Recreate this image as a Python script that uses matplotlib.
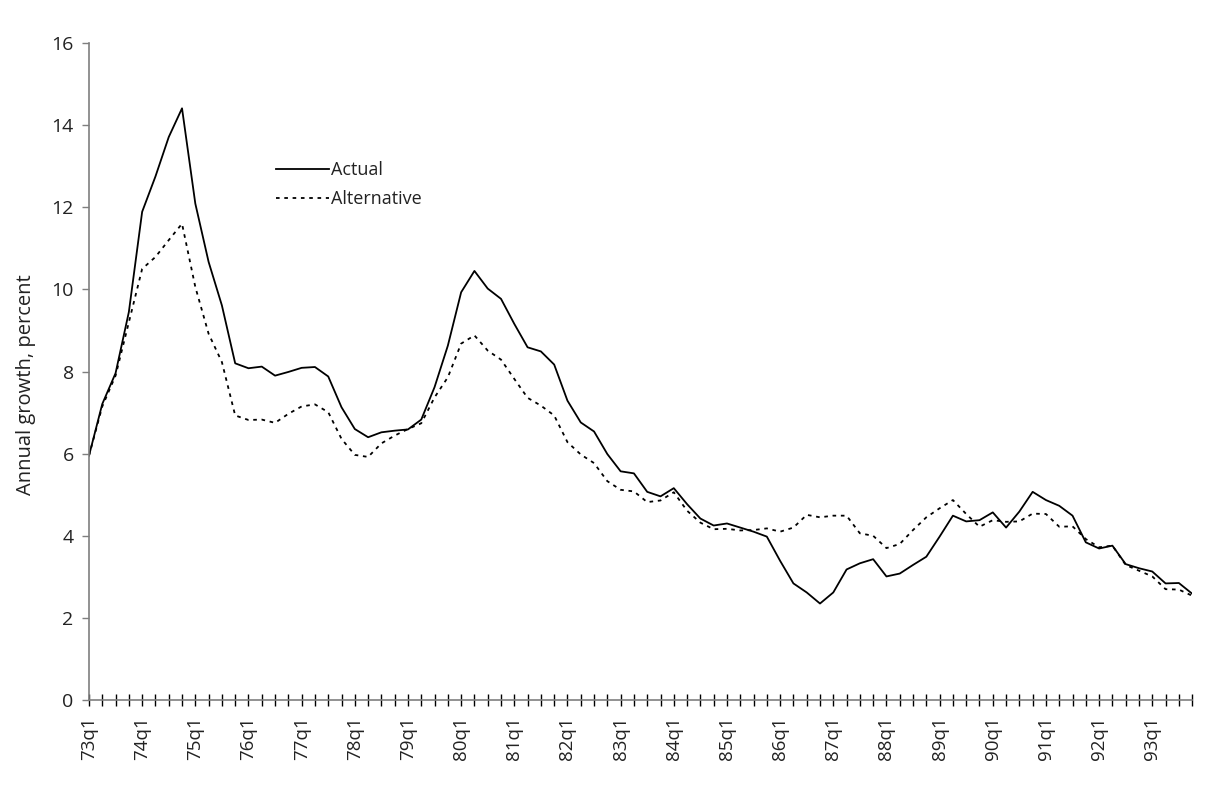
import matplotlib
matplotlib.use("Agg")
import matplotlib.pyplot as plt
import numpy as np

plt.rcParams['font.family'] = ['Open Sans', 'DejaVu Sans']

years = list(range(73, 94))
quarters = [f"{y}q{q}" for y in years for q in range(1, 5)]

actual = [5.95, 7.21, 7.96, 9.45, 11.89, 12.75, 13.71, 14.41, 12.09, 10.67, 9.61, 8.20,
          8.08, 8.12, 7.90, 7.99, 8.09, 8.11, 7.88, 7.13, 6.60, 6.40, 6.52, 6.56,
          6.59, 6.83, 7.62, 8.63, 9.93, 10.45, 10.02, 9.77, 9.16, 8.59, 8.49, 8.17,
          7.29, 6.76, 6.54, 5.99, 5.57, 5.52, 5.07, 4.96, 5.16, 4.77, 4.42, 4.25,
          4.30, 4.20, 4.10, 3.98, 3.39, 2.84, 2.62, 2.35, 2.62, 3.18, 3.33, 3.43,
          3.01, 3.08, 3.29, 3.49, 3.98, 4.49, 4.35, 4.38, 4.57, 4.20, 4.59, 5.07,
          4.87, 4.73, 4.49, 3.84, 3.69, 3.76, 3.31, 3.21, 3.13, 2.84, 2.85, 2.59]

alternative = [5.95, 7.15, 7.90, 9.20, 10.50, 10.79, 11.20, 11.60, 10.06, 8.92, 8.23, 6.93,
               6.82, 6.83, 6.75, 6.97, 7.15, 7.20, 7.01, 6.36, 5.97, 5.92, 6.25, 6.44,
               6.60, 6.74, 7.37, 7.86, 8.68, 8.88, 8.51, 8.29, 7.82, 7.36, 7.17, 6.93,
               6.28, 5.98, 5.77, 5.33, 5.12, 5.08, 4.82, 4.86, 5.06, 4.61, 4.32, 4.16,
               4.17, 4.13, 4.14, 4.18, 4.10, 4.20, 4.51, 4.45, 4.49, 4.49, 4.06, 4.00,
               3.70, 3.80, 4.14, 4.45, 4.67, 4.87, 4.53, 4.22, 4.38, 4.34, 4.35, 4.54,
               4.53, 4.22, 4.23, 3.92, 3.72, 3.76, 3.29, 3.15, 3.01, 2.70, 2.69, 2.54]

yticks = [0, 2, 4, 6, 8, 10, 12, 14, 16]
ylabel = "Annual growth, percent"

fig = plt.figure(figsize=(12.14, 7.91), dpi=100)
ax = fig.add_axes([0.0733, 0.115, 0.9087, 0.8306])

x = np.arange(len(quarters))
ax.plot(x, actual, color='black', lw=1.3, label='Actual')
ax.plot(x, alternative, color='black', lw=1.3, linestyle=(0, (2, 2.6)), label='Alternative')

ax.set_xlim(0, len(quarters) - 1)
ax.set_ylim(0, 16)
ax.set_yticks(yticks)
ax.set_xticks(x)
ax.set_xticklabels([q if q.endswith('q1') else '' for q in quarters], rotation=90)

text_color = '#222222'
for s in ['top', 'right']:
    ax.spines[s].set_visible(False)
for s in ['left', 'bottom']:
    ax.spines[s].set_color('#7f7f7f')
    ax.spines[s].set_linewidth(1.2)

ax.tick_params(axis='x', direction='inout', length=9, width=1, color='black',
               labelsize=13.5, labelcolor=text_color, pad=7)
ax.tick_params(axis='y', direction='out', length=5, width=1, color='#7f7f7f',
               labelsize=14, labelcolor=text_color, pad=6)
ax.set_ylabel(ylabel, fontsize=14.5, color=text_color, labelpad=9)
ax.yaxis.set_label_coords(-0.048, 0.48)

leg = ax.legend(loc='upper left', bbox_to_anchor=(0.155, 0.845), frameon=False,
                fontsize=13, handlelength=2.9, handletextpad=0.15, labelspacing=0.6,
                labelcolor=text_color)

fig.savefig('out.png', dpi=100)
